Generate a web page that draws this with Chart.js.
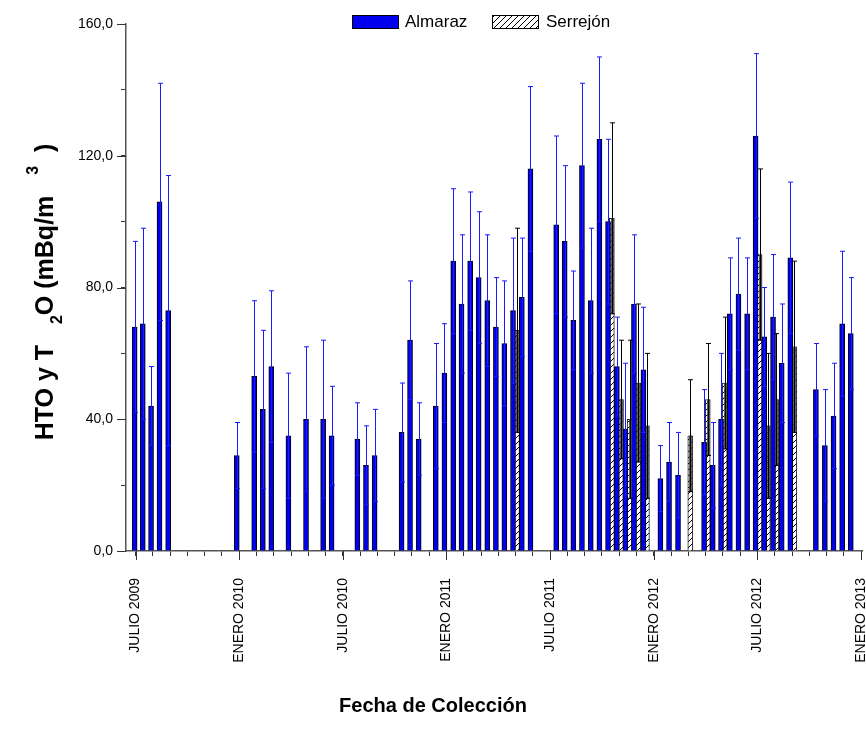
<!DOCTYPE html>
<html>
<head>
<meta charset="utf-8">
<title>HTO y T2O</title>
<script src="https://cdn.jsdelivr.net/npm/chart.js@4.4.1/dist/chart.umd.min.js"></script>
<style>
    html, body { margin: 0; padding: 0; background: #fff; overflow: hidden; }
    #wrap { width: 900px; height: 741px; }
</style>
</head>
<body>
<div id="wrap"><canvas id="htoChart" width="900" height="741"></canvas></div>
<script>
// months counted from JULIO 2009 (0 = July 2009)
const almarazMonth = [
    -0.05, 0.42, 0.9, 1.39, 1.89,
    5.86, 6.87, 7.37, 7.86, 8.85, 9.87, 10.86, 11.35,
    12.84, 13.34, 13.84,
    15.40, 15.89, 16.39,
    17.38, 17.88, 18.39, 18.87, 19.37, 19.86, 20.36, 20.86, 21.35, 21.85, 22.36, 22.86,
    24.35, 24.84, 25.34, 25.84, 26.35, 26.85, 27.35, 27.86, 28.35, 28.85, 29.4,
    30.38, 30.88, 31.40,
    32.91, 33.41, 33.89, 34.4, 34.9, 35.4, 35.89, 36.39, 36.9, 37.4, 37.9,
    39.38, 39.9, 40.4, 40.9, 41.4
];
const almarazValue = [
    68, 69, 44, 106, 73,
    29, 53, 43, 56, 35, 40, 40, 35,
    34, 26, 29,
    36, 64, 34,
    44, 54, 88, 75, 88, 83, 76, 68, 63, 73, 77, 116,
    99, 94, 70, 117, 76, 125, 100, 56, 37, 75, 55,
    22, 27, 23,
    33, 26, 40, 72, 78, 72, 126, 65, 71, 57, 89,
    49, 32, 41, 69, 66
];
const almarazError = [
    26, 29, 12, 36, 41,
    10, 23, 24, 23, 19, 22, 24, 15,
    11, 12, 14,
    15, 18, 11,
    19, 15, 22, 21, 21, 20, 20, 15, 19, 22, 18, 25,
    27, 23, 15, 25, 22, 25, 25, 15, 20, 21, 19,
    10, 12, 13,
    16, 13, 20, 17, 17, 17, 25, 15, 19, 18, 23,
    14, 17, 16, 22, 17
];

const serrejonMonth = [22.08, 27.57, 28.1, 28.6, 29.1, 29.6, 32.11, 33.12, 34.1, 36.12, 36.6, 37.09, 38.13];
const serrejonValue = [67, 101, 46, 40, 51, 38, 35, 46, 51, 90, 38, 46, 62];
const serrejonError = [31, 29, 18, 24, 24, 22, 17, 17, 20, 26, 22, 20, 26];

const dateLabels = ['JULIO 2009', 'ENERO 2010', 'JULIO 2010', 'ENERO 2011',
                    'JULIO 2011', 'ENERO 2012', 'JULIO 2012', 'ENERO 2013'];

const FONT = "'Liberation Sans', Arial, sans-serif";

function makeHatch() {
    const c = document.createElement('canvas');
    c.width = 6;
    c.height = 6;
    const g = c.getContext('2d');
    g.fillStyle = '#fff';
    g.fillRect(0, 0, 6, 6);
    g.strokeStyle = '#000';
    g.lineWidth = 1;
    g.beginPath();
    g.moveTo(0, 6); g.lineTo(6, 0);
    g.moveTo(-1, 1); g.lineTo(1, -1);
    g.moveTo(5, 7); g.lineTo(7, 5);
    g.stroke();
    return g.createPattern(c, 'repeat');
}
const hatch = makeHatch();

// error bars drawn through the y scale
const errorBarPlugin = {
    id: 'errorBars',
    afterDatasetsDraw(chart) {
        const ctx = chart.ctx;
        const yScale = chart.scales.y;
        chart.data.datasets.forEach((ds, di) => {
            const meta = chart.getDatasetMeta(di);
            ctx.save();
            meta.data.forEach((bar, i) => {
                const v = ds.data[i].y;
                const e = ds.errors[i];
                const top = yScale.getPixelForValue(v + e);
                const low = yScale.getPixelForValue(v - e);
                const mid = yScale.getPixelForValue(v);
                const x = Math.round(bar.x) + 0.5;
                if (ds.label === 'Serrejón') {
                    // lower half sits over the hatching and looks grey
                    ctx.strokeStyle = 'rgba(70,70,70,0.85)';
                    ctx.lineWidth = 3;
                    ctx.beginPath();
                    ctx.moveTo(x, low); ctx.lineTo(x, mid);
                    ctx.stroke();
                }
                ctx.strokeStyle = ds.errorColor;
                ctx.lineWidth = 1;
                ctx.beginPath();
                ctx.moveTo(x, low); ctx.lineTo(x, top);
                ctx.moveTo(x - 2.5, top); ctx.lineTo(x + 2.5, top);
                ctx.moveTo(x - 2.5, low); ctx.lineTo(x + 2.5, low);
                ctx.stroke();
            });
            ctx.restore();
        });
    }
};

// titles, legend and the longer major ticks
const decorPlugin = {
    id: 'decor',
    afterDraw(chart) {
        const ctx = chart.ctx;
        const xs = chart.scales.x;
        const ys = chart.scales.y;
        const area = chart.chartArea;
        ctx.save();

        // major ticks
        ctx.strokeStyle = '#333';
        ctx.lineWidth = 1;
        ctx.beginPath();
        for (let m = 0; m <= 42; m += 6) {
            const px = Math.round(xs.getPixelForValue(m)) + 0.5;
            ctx.moveTo(px, area.bottom);
            ctx.lineTo(px, area.bottom + 9);
        }
        for (let v = 0; v <= 160; v += 40) {
            const py = Math.round(ys.getPixelForValue(v)) + 0.5;
            ctx.moveTo(area.left, py);
            ctx.lineTo(area.left - 9, py);
        }
        ctx.stroke();

        // x title
        ctx.fillStyle = '#000';
        ctx.font = 'bold 20px ' + FONT;
        ctx.textAlign = 'center';
        ctx.textBaseline = 'middle';
        ctx.fillText('Fecha de Colección', 433, 706);

        // y title with sub / superscript
        const parts = [
            {t: 'HTO y T   ', size: 25, dy: 0},
            {t: '2', size: 16, dy: 12},
            {t: 'O (mBq/m   ', size: 25, dy: 0},
            {t: '3', size: 16, dy: -12},
            {t: '  )', size: 25, dy: 0}
        ];
        let total = 0;
        parts.forEach(p => {
            ctx.font = 'bold ' + p.size + 'px ' + FONT;
            p.w = ctx.measureText(p.t).width;
            total += p.w;
        });
        ctx.translate(46, 292);
        ctx.rotate(-Math.PI / 2);
        ctx.textAlign = 'left';
        let cx = -total / 2;
        parts.forEach(p => {
            ctx.font = 'bold ' + p.size + 'px ' + FONT;
            ctx.fillText(p.t, cx, p.dy);
            cx += p.w;
        });
        ctx.setTransform(1, 0, 0, 1, 0, 0);

        // legend
        ctx.font = '17px ' + FONT;
        ctx.textBaseline = 'middle';
        ctx.fillStyle = '#0000ee';
        ctx.fillRect(352, 15, 46, 13);
        ctx.strokeStyle = '#000';
        ctx.strokeRect(352.5, 15.5, 46, 13);
        ctx.fillStyle = '#000';
        ctx.fillText('Almaraz', 405, 22);
        ctx.fillStyle = hatch;
        ctx.fillRect(492, 15, 46, 13);
        ctx.strokeRect(492.5, 15.5, 46, 13);
        ctx.fillStyle = '#000';
        ctx.fillText('Serrejón', 546, 22);

        ctx.restore();
    }
};

const ctx = document.getElementById('htoChart').getContext('2d');
const chart = new Chart(ctx, {
    type: 'bar',
    data: {
        datasets: [
            {
                label: 'Almaraz',
                data: almarazMonth.map((m, i) => ({x: m, y: almarazValue[i]})),
                errors: almarazError,
                errorColor: '#1a1aff',
                backgroundColor: '#0000ee',
                borderColor: '#000',
                borderWidth: 1,
                barThickness: 5
            },
            {
                label: 'Serrejón',
                data: serrejonMonth.map((m, i) => ({x: m, y: serrejonValue[i]})),
                errors: serrejonError,
                errorColor: '#000',
                backgroundColor: hatch,
                borderColor: '#222',
                borderWidth: 1,
                barThickness: 5
            }
        ]
    },
    options: {
        responsive: false,
        animation: false,
        devicePixelRatio: 1,
        layout: {padding: {left: 40, right: 34, top: 24, bottom: 40}},
        datasets: {bar: {grouped: false}},
        plugins: {
            legend: {display: false},
            tooltip: {enabled: false}
        },
        scales: {
            x: {
                type: 'linear',
                offset: false,
                min: -0.55,
                max: 42.05,
                // one tick per month
                afterBuildTicks: s => {
                    s.ticks = Array.from({length: 43}, (_, m) => ({value: m}));
                },
                afterFit: s => { s.height = 150; },
                ticks: {
                    autoSkip: false,
                    minRotation: 90,
                    maxRotation: 90,
                    padding: 22,
                    color: '#000',
                    font: {family: FONT, size: 14},
                    callback: v => (v % 6 === 0 ? dateLabels[v / 6] : '')
                },
                grid: {drawOnChartArea: false, offset: false, tickLength: 5, color: '#333'},
                border: {color: '#555', width: 1.5}
            },
            y: {
                min: 0,
                max: 160,
                afterFit: s => { s.width = 86; },
                ticks: {
                    stepSize: 20,
                    padding: 8,
                    color: '#000',
                    font: {family: FONT, size: 14},
                    callback: v => (v % 40 === 0 ? v.toFixed(1).replace('.', ',') : '')
                },
                grid: {drawOnChartArea: false, tickLength: 5, color: '#333'},
                border: {color: '#555', width: 1.5}
            }
        }
    },
    plugins: [errorBarPlugin, decorPlugin]
});
</script>
</body>
</html>
